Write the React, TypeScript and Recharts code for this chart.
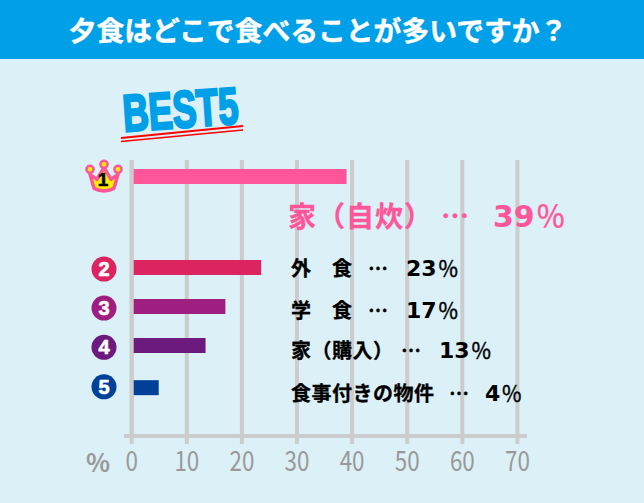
import { Bar, BarChart, CartesianGrid, Cell, ReferenceLine, XAxis, YAxis } from "recharts";

const W = 644;
const H = 503;

const TITLE = "夕食はどこで食べることが多いですか？";
const categories = ["家（自炊）", "外　食", "学　食", "家（購入）", "食事付きの物件"];
const percentLabels = [39, 23, 17, 13, 4];
// bar lengths, they differ a little from the printed labels
const barValues = [39, 23.5, 17, 13.4, 4.9];
const xTicks = [0, 10, 20, 30, 40, 50, 60, 70];
const ranks = [1, 2, 3, 4, 5];

const COLORS = ["#ff5599", "#dc2460", "#9e1f80", "#6c1a7e", "#004098"];
const GRID = "#cccccc";
const JP = '"Noto Sans CJK JP", sans-serif';

// row centres on the hidden y scale, rows are not evenly spaced in the original
const ROW_STOPS = [0.42, 2.76, 3.76, 4.76, 5.84];
// badges sit slightly off their bars
const BADGE_SHIFT = [0, 1.5, 1.5, 1.8, -0.8];

const data = categories.map((name, i) => ({
  name,
  value: barValues[i],
  row: ROW_STOPS[i],
  rank: ranks[i],
}));

// text layout: name x, dots x, percent x, baseline, font sizes
const LABEL_LAYOUT = [
  { x: 288, dots: 441, pct: 493, y: 227, size: 28, num: 30, sign: 30, color: COLORS[0] },
  { x: 291, dots: 368, pct: 406, y: 276, size: 20, num: 22, sign: 21, color: "#000" },
  { x: 291, dots: 368, pct: 406, y: 318, size: 20, num: 22, sign: 21, color: "#000" },
  { x: 291, dots: 401, pct: 439, y: 358, size: 20, num: 22, sign: 21, color: "#000" },
  { x: 291, dots: 449, pct: 485, y: 401, size: 20, num: 22, sign: 21, color: "#000" },
];

function RankTick({ y, index }: any) {
  const rank = ranks[index] ?? 1;
  const cx = 104;
  if (rank === 1) {
    return (
      <g transform={`translate(${cx},${y})`}>
        <path
          d="M-14 -2 L-10 12 Q0 17 10 12 L14 -2 L7 3 L0 -9 L-7 3 Z"
          fill="#ffee00"
          stroke="#ff5599"
          strokeWidth={3.5}
          strokeLinejoin="round"
        />
        <circle cx={-14} cy={-7} r={3.6} fill="#ffee00" stroke="#ff5599" strokeWidth={2.5} />
        <circle cx={14} cy={-7} r={3.6} fill="#ffee00" stroke="#ff5599" strokeWidth={2.5} />
        <circle cx={0} cy={-12} r={3.6} fill="#ffee00" stroke="#ff5599" strokeWidth={2.5} />
        <text
          x={-1}
          y={10}
          textAnchor="middle"
          fontFamily="Liberation Sans"
          fontWeight="bold"
          fontSize={19}
          fill="#000"
          stroke="#000"
          strokeWidth={0.6}
        >
          1
        </text>
      </g>
    );
  }
  const cy = y + BADGE_SHIFT[rank - 1];
  return (
    <g>
      <circle cx={cx} cy={cy} r={12.5} fill={COLORS[rank - 1]} />
      <text
        x={cx}
        y={cy + 7}
        textAnchor="middle"
        fontFamily="Liberation Sans"
        fontWeight="bold"
        fontSize={20}
        fill="#fff"
        stroke="#fff"
        strokeWidth={0.7}
      >
        {rank}
      </text>
    </g>
  );
}

function ValueTick({ x, payload }: any) {
  return (
    <text
      x={0}
      y={0}
      transform={`translate(${x},471) scale(0.8,1)`}
      textAnchor="middle"
      fontFamily={JP}
      fontSize={28}
      fill="#999999"
    >
      {payload.value}
    </text>
  );
}

export default function App() {
  return (
    <div style={{ position: "relative", width: W, height: H, background: "#dcf0f7", overflow: "hidden" }}>
      <style>{`body{margin:0}`}</style>
      <BarChart
        layout="vertical"
        width={W}
        height={H}
        data={data}
        margin={{ top: 160, right: 117, bottom: 0, left: 84 }}
      >
        <CartesianGrid horizontal={false} syncWithTicks stroke={GRID} strokeWidth={4} />
        <XAxis
          type="number"
          domain={[-1.4, 71.74]}
          ticks={xTicks}
          height={67}
          interval={0}
          tickSize={8}
          stroke={GRID}
          axisLine={{ stroke: GRID, strokeWidth: 4 }}
          tickLine={{ stroke: GRID, strokeWidth: 4 }}
          tick={<ValueTick />}
        />
        <YAxis
          type="number"
          dataKey="row"
          width={40}
          domain={[0, 7.08]}
          ticks={ROW_STOPS}
          interval={0}
          axisLine={false}
          tickLine={false}
          tick={<RankTick />}
        />
        <Bar dataKey="value" barSize={15} isAnimationActive={false}>
          {data.map((d, i) => (
            <Cell key={d.name} fill={COLORS[i]} />
          ))}
        </Bar>
        <ReferenceLine x={0} stroke={GRID} strokeWidth={4} />
      </BarChart>

      <svg width={W} height={H} style={{ position: "absolute", left: 0, top: 0, pointerEvents: "none" }}>
        <rect x={0} y={0} width={W} height={59} fill="#00a0e9" />
        <text
          x={318}
          y={41}
          textAnchor="middle"
          fontFamily={JP}
          fontWeight="bold"
          fontSize={27.8}
          fill="#fff"
          stroke="#fff"
          strokeWidth={0.4}
        >
          {TITLE}
        </text>

        <text
          x={0}
          y={0}
          transform="translate(124,131.5) rotate(-4) scale(0.69,1)"
          fontFamily="Liberation Sans"
          fontWeight="bold"
          fontSize={52}
          fill="#00a0e9"
          stroke="#00a0e9"
          strokeWidth={2.6}
        >
          BEST5
        </text>
        <line x1={121} y1={138} x2={243} y2={126} stroke="#ff0000" strokeWidth={1.8} />
        <line x1={121} y1={141.5} x2={243} y2={130} stroke="#ff0000" strokeWidth={1.4} />

        <text x={110} y={472} textAnchor="end" fontFamily={JP} fontWeight="bold" fontSize={25} fill="#999999">
          %
        </text>

        {categories.map((name, i) => {
          const l = LABEL_LAYOUT[i];
          return (
            <g key={name} fill={l.color} fontFamily={JP} fontWeight="bold" fontSize={l.size}>
              <text x={l.x} y={l.y} letterSpacing={i === 0 ? 1 : 0.5} stroke={l.color} strokeWidth={0.3}>
                {name}
              </text>
              <text x={l.dots} y={l.y} stroke={l.color} strokeWidth={0.3}>
                …
              </text>
              <text x={l.pct} y={l.y} fontFamily="DejaVu Sans" fontSize={l.num}>
                {percentLabels[i]}
                <tspan fontFamily={JP} fontWeight="normal" fontSize={l.sign} dx={1} stroke={l.color} strokeWidth={0.4}>
                  ％
                </tspan>
              </text>
            </g>
          );
        })}
      </svg>
    </div>
  );
}
